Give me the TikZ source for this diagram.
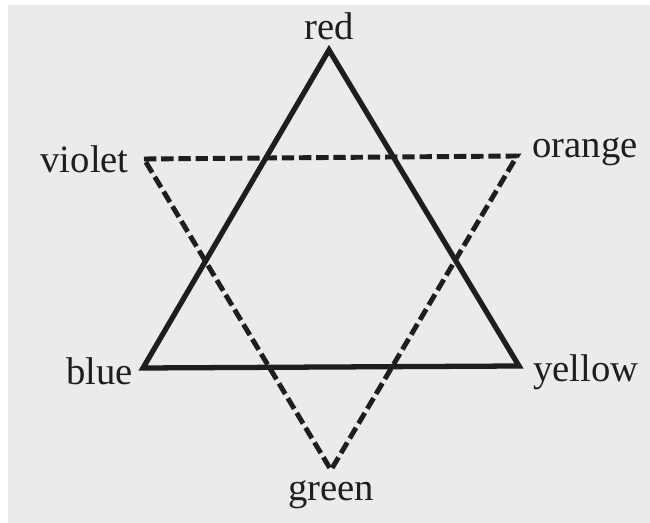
\documentclass[tikz,border=0pt]{standalone}
\usepackage{fontspec}
\setmainfont{Liberation Serif}
\usetikzlibrary{positioning}
\definecolor{paper}{RGB}{235,235,237}
\definecolor{ink}{RGB}{30,30,30}

\begin{document}
\begin{tikzpicture}[font=\fontsize{22}{26}\selectfont,
  colname/.style={inner sep=0pt, text=ink},
  primary/.style={draw=ink, line width=3pt, line join=miter},
  secondary/.style={draw=ink, line width=2.8pt, line join=miter, dash pattern=on 7pt off 2.8pt}]

% page
\useasboundingbox (0, 0) rectangle (13, 10.46);
\fill[white] (0, 0) rectangle (13, 10.46);
\fill[paper] (0.16, 0) rectangle (13, 10.36);

\coordinate (red) at (6.58, 9.46);
\coordinate (blue) at (2.86, 3.10);
\coordinate (yellow) at (10.38, 3.14);
\coordinate (violet) at (2.88, 7.28);
\coordinate (orange) at (10.34, 7.34);
\coordinate (green) at (6.62, 1.06);

\node[colname, above=0.2cm of red] (redlbl) {red};
\node[colname, left=0.3cm of violet] (violetlbl) {violet};
\node[colname, right=0.3cm of orange, yshift=0.08cm] (orangelbl) {orange};
\node[colname, left=0.2cm of blue, yshift=-0.06cm] (bluelbl) {blue};
\node[colname, right=0.28cm of yellow, yshift=-0.12cm] (yellowlbl) {yellow};
\node[colname, below=0.2cm of green] (greenlbl) {green};

\draw[primary] (red) -- (yellow) -- (blue) -- cycle;
\draw[secondary] (violet) -- (orange) -- (green) -- cycle;
\end{tikzpicture}
\end{document}
